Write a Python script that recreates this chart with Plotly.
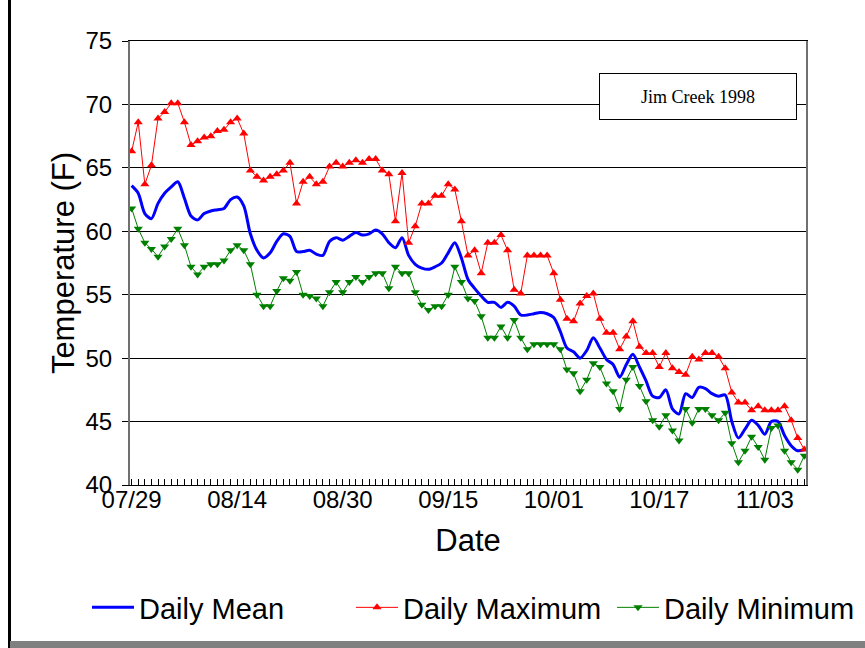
import pandas as pd
import plotly.graph_objects as go

start_date = "1998-07-29"

daily_mean = [
    63.6, 63.0, 61.4, 61.0, 62.2, 63.0, 63.5, 63.9, 62.6, 61.2,
    60.9, 61.4, 61.6, 61.7, 61.8, 62.5, 62.7, 62.0, 59.8, 58.5,
    57.9, 58.3, 59.2, 59.8, 59.6, 58.4, 58.4, 58.5, 58.2, 58.1,
    59.2, 59.5, 59.3, 59.6, 59.9, 59.7, 59.8, 60.1, 59.8, 59.1,
    58.7, 59.5, 58.1, 57.4, 57.1, 57.0, 57.2, 57.5, 58.3, 59.1,
    57.9, 56.2, 55.5, 54.9, 54.4, 54.4, 54.0, 54.4, 54.1, 53.4,
    53.4, 53.5, 53.6, 53.5, 53.2, 52.1, 50.8, 50.5, 50.0, 50.6,
    51.6, 50.8, 49.9, 49.5, 48.5, 49.5, 50.3, 49.3, 48.2, 47.0,
    46.9, 47.5, 46.0, 45.6, 47.2, 46.9, 47.7, 47.6, 47.2, 47.0,
    47.1, 45.0, 43.7, 44.4, 45.1, 44.7, 44.0, 45.0, 45.0, 43.9,
    43.1, 42.7, 42.8,
]

daily_max = [
    66.3, 68.6, 63.7, 65.2, 68.9, 69.4, 70.1, 70.1, 68.6, 66.8,
    67.1, 67.4, 67.5, 67.9, 68.0, 68.6, 68.9, 67.7, 64.8, 64.3,
    64.0, 64.3, 64.5, 64.8, 65.4, 62.2, 63.9, 64.3, 63.7, 63.9,
    65.1, 65.4, 65.1, 65.4, 65.6, 65.4, 65.7, 65.7, 64.8, 64.5,
    60.8, 64.6, 59.1, 60.4, 62.2, 62.2, 62.8, 62.8, 63.7, 63.3,
    60.8, 58.1, 58.5, 56.7, 59.1, 59.1, 59.7, 58.5, 55.4, 55.1,
    58.1, 58.1, 58.1, 58.1, 56.7, 54.6, 53.1, 52.9, 54.3, 54.9,
    55.1, 53.1, 52.0, 52.0, 50.7, 51.7, 52.9, 50.9, 50.4, 50.4,
    49.3, 50.4, 49.2, 48.9, 48.7, 50.1, 49.9, 50.4, 50.4, 50.1,
    49.2, 47.3, 46.5, 46.5, 45.9, 46.2, 45.9, 45.9, 45.9, 46.2,
    45.1, 43.7, 42.8,
]

daily_min = [
    61.8, 60.2, 59.1, 58.6, 58.0, 58.8, 59.4, 60.2, 58.9, 57.2,
    56.6, 57.2, 57.4, 57.4, 57.7, 58.5, 58.9, 58.5, 57.4, 55.0,
    54.1, 54.1, 55.3, 56.3, 56.1, 56.8, 55.0, 54.9, 54.7, 54.1,
    55.2, 56.0, 55.2, 56.0, 56.4, 56.0, 56.4, 56.7, 56.7, 55.5,
    57.2, 56.7, 56.7, 55.2, 54.2, 53.8, 54.1, 54.1, 55.0, 57.2,
    56.0, 54.7, 54.5, 53.3, 51.6, 51.6, 52.5, 51.6, 53.0, 51.6,
    50.7, 51.1, 51.1, 51.1, 51.1, 50.7, 49.1, 48.8, 47.4, 48.3,
    49.6, 49.3, 48.0, 47.4, 46.0, 48.3, 49.3, 47.8, 46.6, 45.1,
    44.6, 45.5, 44.3, 43.5, 46.0, 44.9, 46.0, 46.0, 45.5, 45.1,
    45.7, 43.3, 41.8, 42.7, 43.8, 43.0, 42.0, 44.5, 44.7, 42.7,
    41.8, 41.2, 42.3,
]

tick_labels = ["07/29", "08/14", "08/30", "09/15", "10/01", "10/17", "11/03"]

dates = pd.date_range(start_date, periods=len(daily_mean), freq="D")
tick_vals = [dates[0] + pd.Timedelta(days=16 * k) for k in range(len(tick_labels))]

W, H = 865, 648
L, R, T, B = 130, 59, 41, 163
PW, PH = W - L - R, H - T - B


def px_x(px):
    return (px - L) / PW


def px_y(py):
    return (H - B - py) / PH


FONT = "Liberation Sans, Arial, sans-serif"

fig = go.Figure()
fig.add_trace(go.Scatter(
    x=dates, y=daily_mean, name="Daily Mean", mode="lines",
    line=dict(color="#0000FF", width=3, shape="spline", smoothing=0.8),
    legend="legend",
))
fig.add_trace(go.Scatter(
    x=dates, y=daily_max, name="Daily Maximum", mode="lines+markers",
    line=dict(color="#FF0000", width=1),
    marker=dict(symbol="triangle-up", size=8, color="#FF0000"),
    legend="legend2",
))
fig.add_trace(go.Scatter(
    x=dates, y=daily_min, name="Daily Minimum", mode="lines+markers",
    line=dict(color="#008000", width=1),
    marker=dict(symbol="triangle-down", size=8, color="#008000"),
    legend="legend3",
))

legend_common = dict(
    orientation="h", xanchor="left", yanchor="middle",
    font=dict(family=FONT, size=29, color="black"),
    bgcolor="rgba(0,0,0,0)", borderwidth=0, itemwidth=42,
    visible=True,
)

LEG_Y = px_y(607.5)

fig.update_layout(
    width=W, height=H, autosize=False,
    margin=dict(l=L, r=R, t=T, b=B, pad=0, autoexpand=False),
    paper_bgcolor="white", plot_bgcolor="white",
    font=dict(family=FONT, color="black"),
    showlegend=True,
    legend=dict(x=px_x(87), y=LEG_Y, **legend_common),
    legend2=dict(x=px_x(351), y=LEG_Y, **legend_common),
    legend3=dict(x=px_x(612), y=LEG_Y, **legend_common),
    xaxis=dict(
        type="date",
        range=[dates[0] - pd.Timedelta(hours=6), dates[-1] + pd.Timedelta(hours=6)],
        tickmode="array", tickvals=tick_vals, ticktext=tick_labels,
        tickfont=dict(family=FONT, size=24, color="black"),
        ticks="inside", ticklen=6, tickcolor="black", tickwidth=1,
        ticklabelstandoff=-7,
        minor=dict(dtick=86400000, ticks="inside", ticklen=6, tickcolor="black",
                   tickwidth=1, showgrid=False),
        showgrid=False, zeroline=False,
        showline=True, linecolor="black", linewidth=1, mirror=True,
        title=dict(text="Date", font=dict(family=FONT, size=31, color="black"), standoff=17),
    ),
    yaxis=dict(
        range=[40, 75], dtick=5, tick0=40,
        tickfont=dict(family=FONT, size=24, color="black"),
        ticks="outside", ticklen=6, tickcolor="black", tickwidth=1,
        ticklabelstandoff=5,
        showgrid=True, gridcolor="black", gridwidth=1, zeroline=False,
        showline=True, linecolor="#707070", linewidth=2, mirror=True,
        title=dict(text="Temperature (F)", font=dict(family=FONT, size=31, color="black"), standoff=2),
    ),
)

fig.add_annotation(
    xref="paper", yref="paper", x=px_x(698), y=px_y(96.5),
    xanchor="center", yanchor="middle", showarrow=False,
    text="Jim Creek 1998",
    font=dict(family="Liberation Serif, Times New Roman, serif", size=18, color="black"),
    bgcolor="white", bordercolor="black", borderwidth=1, borderpad=0,
    width=196, height=45,
)

# outer frame of the picture
fig.add_shape(type="rect", xref="paper", yref="paper",
              x0=px_x(8), x1=px_x(11), y0=px_y(0), y1=px_y(648),
              fillcolor="black", line=dict(width=0), layer="above")
fig.add_shape(type="rect", xref="paper", yref="paper",
              x0=px_x(10), x1=px_x(865), y0=px_y(641), y1=px_y(648),
              fillcolor="#808080", line=dict(width=0), layer="above")

fig.write_html(
    "out.html",
    config={"displayModeBar": False},
    post_script="document.body.style.margin='0px';",
)
